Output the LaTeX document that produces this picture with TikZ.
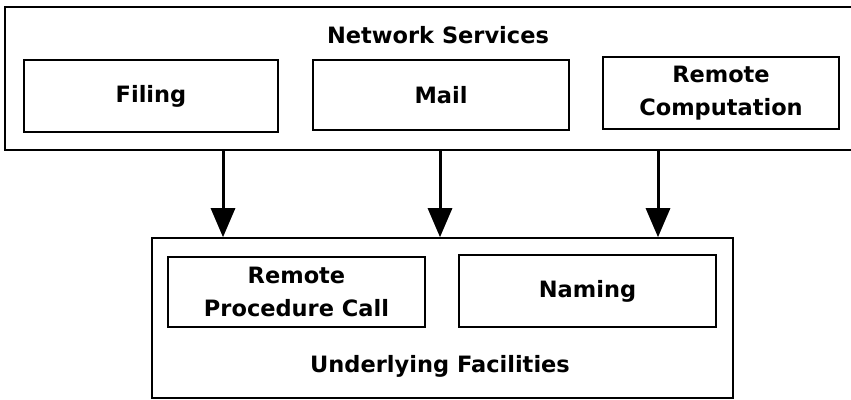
\documentclass[tikz,border=0pt]{standalone}
\usepackage{fontspec}
\setmainfont{DejaVu Sans}
\usetikzlibrary{arrows.meta}
\begin{document}
\begin{tikzpicture}[x=1bp,y=-1bp,
  txt/.style={font=\fontsize{22.5bp}{33bp}\selectfont\bfseries, align=center, inner sep=0pt},
  box/.style={txt, draw, line width=1.3bp},
  frame/.style={draw, line width=1.6bp, inner sep=0pt},
  flow/.style={line width=3bp, -{Triangle[width=24bp,length=29bp]}}]
\useasboundingbox (0,0) rectangle (851,399);
% outer frames
\node[frame, minimum width=847bp, minimum height=143bp] (services) at (428.5,78.5) {};
\node[frame, minimum width=581bp, minimum height=160bp] (facilities) at (442.5,318) {};
% titles
\node[txt] (nstitle) at (438,35) {Network Services};
\node[txt] (uftitle) at (440,366) {Underlying Facilities};
% service boxes
\node[box, minimum width=254bp, minimum height=72bp] (filing) at (151,96) {Filing};
\node[box, minimum width=256bp, minimum height=70bp] (mail) at (441,95) {Mail};
\node[box, minimum width=236bp, minimum height=72bp] (remcomp) at (721,93) {Remote\\Computation};
% facility boxes
\node[box, minimum width=257bp, minimum height=70bp] (rpc) at (296.5,292) {Remote\\Procedure Call};
\node[box, minimum width=257bp, minimum height=72bp] (naming) at (587.5,291) {Naming};
% arrows
\coordinate (a1) at (223,150);
\coordinate (a2) at (440,150);
\coordinate (a3) at (658,150);
\draw[flow] (a1) -- (a1 |- facilities.north);
\draw[flow] (a2) -- (a2 |- facilities.north);
\draw[flow] (a3) -- (a3 |- facilities.north);
\end{tikzpicture}
\end{document}
